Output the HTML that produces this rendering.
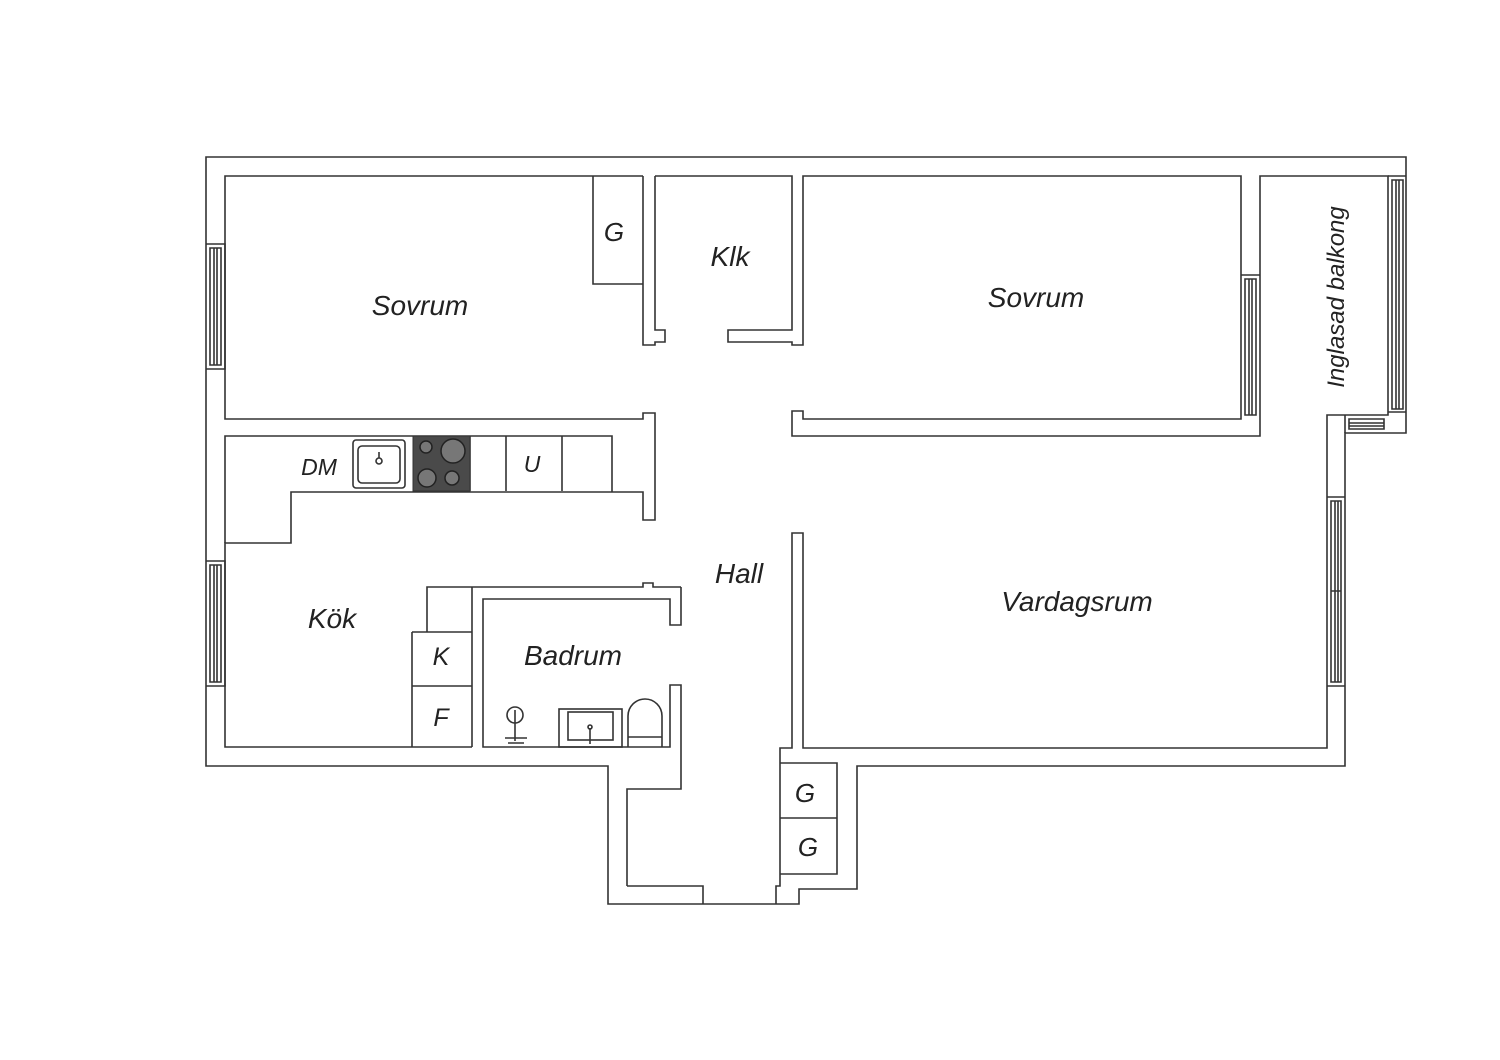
<!DOCTYPE html>
<html><head><meta charset="utf-8"><style>
body{margin:0;background:#fff;}
svg{display:block}
text{font-family:"Liberation Sans",sans-serif;font-style:italic;fill:#222;}
</style></head><body>
<svg width="1500" height="1060" viewBox="0 0 1500 1060" xmlns="http://www.w3.org/2000/svg">
<g fill="none" stroke="#333" stroke-width="1.6" stroke-linejoin="miter">
<path d="M206,157 H1406 V433 H1345 V766 H857 V889 H799 V904 H608 V766 H206 Z"/>
<path d="M643,176 H225 V419 H643 V413 H655 V520 H643 V492 H291 V543 H225 V747 H472"/>
<path d="M225,543 V436 H612 V492"/>
<path d="M643,176 V345 H655 V342 H665 V330 H655 V176"/>
<path d="M593,176 V284 H643"/>
<path d="M655,176 H792 V330 H728 V342 H792 V345 H803 V176 H1241 V419 H803 V411 H792 V436 H1260 V176 H1388 V415 H1327 V748 H803 V533 H792 V748 H780 V886 H776 V904"/>
<path d="M627,886 H703 V904"/>
<path d="M681,587 V625 H670 V599 H483 V747 H670 V685 H681 V789 H627 V886"/>
<path d="M427,632 V587 H643 V583 H653 V587 H681"/>
<path d="M472,587 V747 M412,632 H472 M412,632 V747 M412,686 H472"/>
<path d="M780,763 H837 V874 H780 M780,818 H837"/>
<path d="M470,436 V491 M506,436 V491 M562,436 V491"/>
<path d="M206,244 H225 V369 H206 M210,248 H221 V365 H210 Z M214,248 V365 M217,248 V365"/>
<path d="M206,561 H225 V686 H206 M210,565 H221 V682 H210 Z M214,565 V682 M217,565 V682"/>
<path d="M1241,275 H1260 M1245,279 H1256 V415 H1245 Z M1249,279 V415 M1252,279 V415"/>
<path d="M1388,176 H1406 M1392,180 H1403 V409 H1392 Z M1396,180 V409 M1399,180 V409 M1388,412 H1406"/>
<path d="M1345,415 V433 M1349,419 H1384 V429 H1349 Z M1349,423 H1384 M1349,426 H1384"/>
<path d="M1327,497 H1345 M1331,501 H1341 V682 H1331 Z M1335,501 V682 M1338,501 V682 M1331,591 H1341 M1327,686 H1345"/>
<rect x="353" y="440" width="52" height="48" rx="3"/>
<rect x="358" y="446" width="42" height="37" rx="4"/>
<circle cx="379" cy="461" r="3"/><path d="M379,452 V458"/>
<circle cx="515" cy="715" r="8"/><path d="M515,710 V741 M505,738 H527 M508,743 H524"/>
<rect x="559" y="709" width="63" height="38"/><rect x="568" y="712" width="45" height="28"/>
<path d="M590,728 V744"/><circle cx="590" cy="727" r="2"/>
<path d="M628,747 V716 A17,17 0 0 1 662,716 V747 M628,737 H662"/>
</g>
<rect x="413" y="436" width="57" height="55" fill="#4a4a4a" stroke="#333"/>
<g fill="#777" stroke="#222" stroke-width="1.5">
<circle cx="426" cy="447" r="6"/><circle cx="453" cy="451" r="12"/>
<circle cx="427" cy="478" r="9"/><circle cx="452" cy="478" r="7"/>
</g>
<text x="420" y="315" font-size="28" text-anchor="middle">Sovrum</text>
<text x="614" y="241" font-size="26" text-anchor="middle">G</text>
<text x="730" y="266" font-size="28" text-anchor="middle">Klk</text>
<text x="1036" y="307" font-size="28" text-anchor="middle">Sovrum</text>
<text x="319" y="475" font-size="23" text-anchor="middle">DM</text>
<text x="532" y="472" font-size="23" text-anchor="middle">U</text>
<text x="739" y="583" font-size="28" text-anchor="middle">Hall</text>
<text x="1077" y="611" font-size="28" text-anchor="middle">Vardagsrum</text>
<text x="332" y="628" font-size="28" text-anchor="middle">Kök</text>
<text x="441" y="665" font-size="25" text-anchor="middle">K</text>
<text x="441" y="726" font-size="25" text-anchor="middle">F</text>
<text x="573" y="665" font-size="28" text-anchor="middle">Badrum</text>
<text x="805" y="802" font-size="26" text-anchor="middle">G</text>
<text x="808" y="856" font-size="26" text-anchor="middle">G</text>
<text transform="translate(1344,297) rotate(-90)" font-size="24" text-anchor="middle">Inglasad balkong</text>
</svg>
</body></html>
